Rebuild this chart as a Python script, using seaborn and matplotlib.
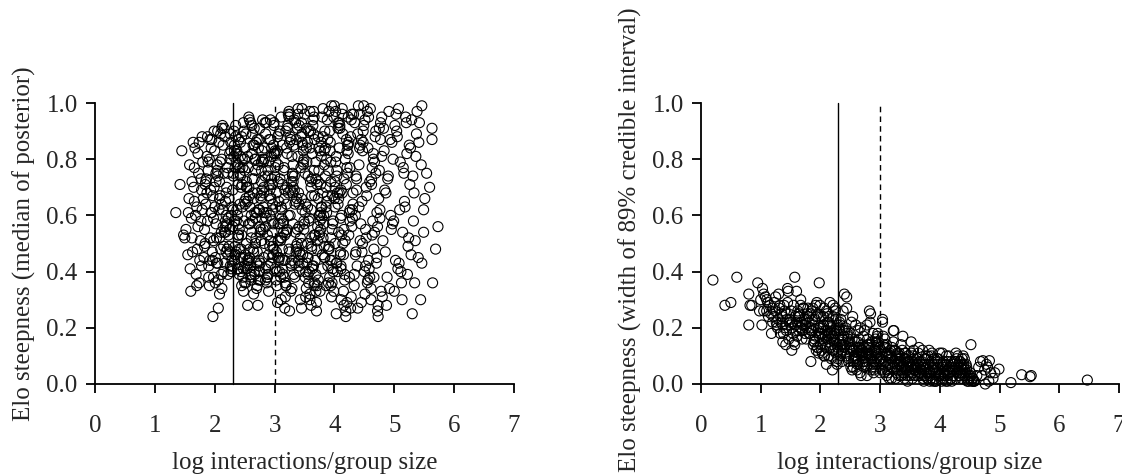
import matplotlib
matplotlib.use("Agg")
import matplotlib.pyplot as plt
import seaborn as sns
import pandas as pd

# ---------------- Left panel: median of posterior ----------------
med_x_a = [1.35,1.42,1.45,1.56,1.50,1.62,1.59,1.60,1.70,1.62,1.66,1.64,1.52,1.48,1.55,1.58,1.68,1.72,1.75,1.78,1.66,1.71,1.74,1.77,1.69,1.73,1.79,1.63,1.67,1.76,1.80,1.78,1.72,1.65,1.57,1.74,1.79,1.70,1.61,1.77]
med_y_a = [0.61,0.71,0.83,0.61,0.52,0.52,0.41,0.33,0.35,0.72,0.77,0.86,0.55,0.53,0.46,0.78,0.60,0.82,0.44,0.69,0.65,0.48,0.86,0.58,0.39,0.75,0.62,0.47,0.84,0.51,0.79,0.42,0.56,0.70,0.66,0.36,0.88,0.63,0.59,0.73]

med_x_b = [1.82,1.85,1.88,1.91,1.94,1.97,2.00,2.03,2.06,2.09,2.12,2.15,2.18,2.21,2.24,2.27,2.29,1.83,1.87,1.90,
           1.93,1.96,1.99,2.02,2.05,2.08,2.11,2.14,2.17,2.20,2.23,2.26,2.28,1.81,1.84,1.89,1.92,1.95,1.98,2.01,
           2.04,2.07,2.10,2.13,2.16,2.19,2.22,2.25,2.28,1.86,1.90,1.94,1.98,2.02,2.06,2.10,2.14,2.18,2.22,2.26,
           1.84,1.88,1.92,1.96,2.00,2.04,2.08,2.12,2.16,2.20,2.24,2.28,1.83,1.87,1.91,1.95,1.99,2.03,2.07,2.11,
           2.15,2.19,2.23,2.27,1.98,2.08,1.85,1.93,2.01,2.09,2.17,2.25,2.13,2.21,2.05,1.97,2.29,1.89,2.11,2.19]
med_y_b = [0.45,0.72,0.88,0.35,0.61,0.24,0.83,0.52,0.27,0.67,0.91,0.40,0.58,0.77,0.49,0.86,0.63,0.55,0.81,0.38,
           0.69,0.47,0.90,0.57,0.74,0.32,0.64,0.85,0.43,0.70,0.53,0.89,0.41,0.66,0.50,0.79,0.44,0.87,0.59,0.36,
           0.76,0.62,0.48,0.92,0.54,0.68,0.39,0.82,0.60,0.73,0.42,0.84,0.51,0.75,0.37,0.89,0.56,0.65,0.46,0.80,
           0.71,0.58,0.87,0.44,0.63,0.78,0.52,0.34,0.91,0.57,0.66,0.40,0.49,0.68,0.80,0.61,0.70,0.43,0.86,0.54,
           0.75,0.47,0.59,0.83,0.38,0.72,0.64,0.52,0.45,0.79,0.88,0.55,0.62,0.48,0.90,0.67,0.42,0.76,0.39,0.60]

med_x_c = [2.31,2.35,2.38,2.42,2.45,2.48,2.52,2.55,2.58,2.62,2.65,2.68,2.72,2.75,2.78,
           2.33,2.36,2.40,2.43,2.47,2.50,2.53,2.57,2.60,2.63,2.67,2.70,2.73,2.77,2.79,
           2.32,2.34,2.39,2.41,2.46,2.49,2.51,2.56,2.59,2.61,2.66,2.69,2.71,2.76,2.80,
           2.30,2.37,2.44,2.54,2.64,2.74,2.31,2.38,2.45,2.52,2.58,2.65,2.72,2.78,2.35,
           2.42,2.48,2.55,2.62,2.68,2.75,2.33,2.40,2.47,2.53,2.60,2.67,2.73,2.79,2.36,
           2.43,2.50,2.57,2.63,2.70,2.77,2.32,2.39,2.46,2.54,2.61,2.69,2.76,2.34,2.41,
           2.49,2.56,2.64,2.71,2.78,2.37,2.44,2.51,2.59,2.66,2.74,2.30,2.40,2.50,2.60,
           2.70,2.80,2.35,2.45,2.55,2.65,2.75,2.38,2.48,2.58,2.68,2.77,2.33,2.43,2.53,
           2.63,2.73,2.36,2.46,2.56,2.66,2.76,2.31,2.41,2.51,2.61,2.71,2.79,2.44,2.57,
           2.67,2.39,2.52,2.62,2.74]
med_y_c = [0.62,0.88,0.41,0.75,0.53,0.93,0.36,0.28,0.67,0.82,0.47,0.59,0.28,0.91,0.72,
           0.44,0.79,0.57,0.86,0.38,0.65,0.50,0.95,0.42,0.73,0.61,0.34,0.84,0.55,0.69,
           0.90,0.49,0.71,0.39,0.80,0.58,0.46,0.77,0.63,0.37,0.85,0.52,0.68,0.43,0.94,
           0.56,0.83,0.40,0.70,0.48,0.87,0.74,0.60,0.35,0.89,0.45,0.66,0.78,0.51,0.92,
           0.64,0.33,0.81,0.54,0.76,0.40,0.58,0.87,0.45,0.70,0.93,0.39,0.62,0.83,0.47,
           0.74,0.36,0.57,0.89,0.43,0.66,0.81,0.52,0.71,0.41,0.60,0.86,0.37,0.77,0.55,
           0.90,0.44,0.68,0.35,0.79,0.62,0.48,0.84,0.57,0.73,0.42,0.69,0.53,0.76,0.38,
           0.61,0.80,0.46,0.88,0.65,0.32,0.56,0.78,0.41,0.94,0.50,0.67,0.85,0.45,0.72,
           0.58,0.37,0.82,0.63,0.43,0.91,0.54,0.75,0.48,0.64,0.39,0.87,0.59,0.70,0.44,
           0.80,0.53,0.66,0.92,0.40]

med_x_d = [2.81,2.84,2.88,2.91,2.95,2.98,3.02,3.05,3.09,3.12,3.16,3.19,3.23,3.26,3.29,
           2.83,2.86,2.90,2.93,2.97,3.00,3.04,3.07,3.11,3.14,3.18,3.21,3.25,3.28,2.82,
           2.85,2.89,2.92,2.96,2.99,3.03,3.06,3.10,3.13,3.17,3.20,3.24,3.27,3.30,2.87,
           2.94,3.01,3.08,3.15,3.22,2.81,2.89,2.97,3.05,3.13,3.21,3.29,2.85,2.93,3.01,
           3.09,3.17,3.25,2.83,2.91,2.99,3.07,3.15,3.23,2.87,2.95,3.03,3.11,3.19,3.27,
           2.82,2.90,2.98,3.06,3.14,3.22,3.30,2.86,2.94,3.02,3.10,3.18,3.26,2.84,2.92,
           3.00,3.08,3.16,3.24,2.88,2.96,3.04,3.12,3.20,3.28,2.81,2.91,3.01,3.11,3.21,
           2.86,2.96,3.06,3.16,3.26,2.83,2.93,3.03,3.13,3.23,2.89,2.99,3.09,3.19,3.29,
           2.97,3.07,3.17,3.27,2.85,3.05,3.15,3.25,2.95,3.12]
med_y_d = [0.55,0.93,0.38,0.71,0.84,0.46,0.63,0.29,0.90,0.52,0.77,0.35,0.68,0.96,0.44,
           0.80,0.59,0.33,0.87,0.49,0.74,0.40,0.65,0.95,0.57,0.31,0.82,0.47,0.72,0.61,
           0.89,0.42,0.69,0.54,0.92,0.37,0.78,0.51,0.85,0.27,0.64,0.97,0.43,0.75,0.36,
           0.66,0.83,0.45,0.58,0.91,0.79,0.39,0.62,0.88,0.48,0.70,0.34,0.56,0.94,0.41,
           0.73,0.53,0.86,0.50,0.67,0.93,0.44,0.76,0.60,0.38,0.81,0.47,0.63,0.90,0.33,
           0.70,0.46,0.85,0.57,0.39,0.92,0.68,0.61,0.43,0.79,0.52,0.36,0.88,0.74,0.49,
           0.82,0.40,0.66,0.95,0.53,0.71,0.35,0.59,0.84,0.42,0.63,0.87,0.77,0.30,0.55,
           0.93,0.45,0.72,0.38,0.60,0.84,0.51,0.68,0.41,0.96,0.76,0.48,0.57,0.35,0.81,
           0.64,0.89,0.44,0.69,0.37,0.83,0.54,0.26,0.73,0.62]

med_x_e = [3.31,3.34,3.38,3.41,3.45,3.48,3.52,3.55,3.59,3.62,3.66,3.69,3.73,3.76,3.79,
           3.33,3.36,3.40,3.43,3.47,3.50,3.54,3.57,3.61,3.64,3.68,3.71,3.75,3.78,3.32,
           3.35,3.39,3.42,3.46,3.49,3.53,3.56,3.60,3.63,3.67,3.70,3.74,3.77,3.80,3.37,
           3.44,3.51,3.58,3.65,3.72,3.31,3.39,3.47,3.55,3.63,3.71,3.79,3.35,3.43,3.51,
           3.59,3.67,3.75,3.33,3.41,3.49,3.57,3.65,3.73,3.37,3.45,3.53,3.61,3.69,3.77,
           3.32,3.40,3.48,3.56,3.64,3.72,3.80,3.36,3.44,3.52,3.60,3.68,3.76,3.34,3.42,
           3.50,3.58,3.66,3.74,3.38,3.46,3.54,3.62,3.70,3.78,3.31,3.41,3.51,3.61,3.71,
           3.36,3.46,3.56,3.66,3.76,3.33,3.43,3.53,3.63,3.73,3.39,3.49,3.59,3.69,3.79,
           3.47,3.57,3.67,3.77,3.35,3.55,3.65,3.75,3.45,3.62]
med_y_e = [0.72,0.38,0.91,0.56,0.27,0.83,0.64,0.45,0.97,0.52,0.76,0.33,0.88,0.60,0.41,
           0.94,0.49,0.68,0.30,0.85,0.57,0.79,0.36,0.62,0.92,0.44,0.71,0.53,0.86,0.39,
           0.65,0.81,0.47,0.98,0.58,0.34,0.74,0.90,0.42,0.67,0.29,0.84,0.55,0.95,0.48,
           0.77,0.61,0.40,0.89,0.51,0.70,0.96,0.43,0.63,0.82,0.35,0.59,0.93,0.46,0.75,
           0.32,0.87,0.54,0.69,0.42,0.80,0.58,0.97,0.37,0.66,0.50,0.91,0.28,0.73,0.61,
           0.85,0.44,0.78,0.39,0.94,0.56,0.68,0.47,0.88,0.31,0.72,0.53,0.83,0.64,0.40,
           0.96,0.59,0.35,0.76,0.50,0.89,0.43,0.67,0.26,0.81,0.57,0.92,0.38,0.70,0.48,
           0.87,0.62,0.45,0.95,0.33,0.74,0.52,0.84,0.41,0.66,0.98,0.55,0.30,0.79,0.63,
           0.46,0.90,0.36,0.71,0.54,0.86,0.42,0.60,0.93,0.49]

med_x_f = [3.81,3.84,3.88,3.91,3.95,3.98,4.02,4.05,4.09,4.12,4.16,4.19,4.23,4.26,4.29,
           3.83,3.86,3.90,3.93,3.97,4.00,4.04,4.07,4.11,4.14,4.18,4.21,4.25,4.28,3.82,
           3.85,3.89,3.92,3.96,3.99,4.03,4.06,4.10,4.13,4.17,4.20,4.24,4.27,4.30,3.87,
           3.94,4.01,4.08,4.15,4.22,3.81,3.89,3.97,4.05,4.13,4.21,4.29,3.85,3.93,4.01,
           4.09,4.17,4.25,3.83,3.91,3.99,4.07,4.15,4.23,3.87,3.95,4.03,4.11,4.19,4.27,
           3.82,3.90,3.98,4.06,4.14,4.22,4.30,3.86,3.94,4.02,4.10,4.18,4.26,3.84,3.92,
           4.00,4.08,4.16,4.24,3.88,3.96,4.04,4.12,4.20,4.28,3.81,3.91,4.01,4.11,4.21,
           3.86,3.96,4.06,4.16,4.26,3.83,3.93,4.03,4.13,4.23]
med_y_f = [0.88,0.45,0.67,0.97,0.31,0.58,0.79,0.40,0.92,0.53,0.73,0.26,0.85,0.62,0.96,
           0.49,0.70,0.36,0.83,0.57,0.99,0.43,0.66,0.30,0.89,0.51,0.77,0.38,0.94,0.60,
           0.74,0.42,0.90,0.55,0.33,0.81,0.64,0.47,0.98,0.39,0.71,0.86,0.27,0.59,0.80,
           0.35,0.63,0.93,0.46,0.75,0.52,0.87,0.41,0.68,0.96,0.29,0.56,0.84,0.44,0.72,
           0.91,0.37,0.61,0.78,0.48,0.95,0.54,0.33,0.82,0.65,0.99,0.43,0.69,0.24,0.88,
           0.57,0.76,0.40,0.93,0.50,0.85,0.62,0.35,0.72,0.97,0.46,0.80,0.58,0.90,0.38,
           0.66,0.84,0.28,0.53,0.94,0.44,0.74,0.60,0.87,0.31,0.98,0.49,0.70,0.41,0.83,
           0.63,0.36,0.91,0.55,0.77,0.45,0.86,0.25,0.68,0.95]

med_x_g = [4.31,4.34,4.38,4.41,4.45,4.48,4.52,4.55,4.59,4.62,4.66,4.69,4.73,4.76,4.79,
           4.33,4.36,4.40,4.43,4.47,4.50,4.54,4.57,4.61,4.64,4.68,4.71,4.75,4.78,4.32,
           4.35,4.39,4.42,4.46,4.49,4.53,4.56,4.60,4.63,4.67,4.70,4.74,4.77,4.80,4.37,
           4.44,4.51,4.58,4.65,4.72,4.31,4.39,4.47,4.55,4.63,4.71,4.79,4.35,4.43,4.51,
           4.59,4.67,4.75,4.33,4.41,4.49,4.57,4.65,4.73,4.37,4.45,4.53,4.61,4.69,4.77,
           4.36,4.46,4.56,4.66,4.76,4.42,4.52,4.62,4.72,4.48]
med_y_g = [0.64,0.93,0.42,0.78,0.29,0.86,0.55,0.97,0.38,0.71,0.48,0.90,0.24,0.62,0.81,
           0.35,0.74,0.99,0.51,0.83,0.40,0.67,0.95,0.30,0.58,0.88,0.45,0.76,0.33,0.96,
           0.60,0.27,0.84,0.47,0.92,0.70,0.37,0.98,0.53,0.79,0.43,0.66,0.87,0.31,0.73,
           0.57,0.94,0.41,0.82,0.26,0.68,0.89,0.50,0.36,0.77,0.61,0.95,0.46,0.85,0.32,
           0.72,0.54,0.91,0.39,0.63,0.99,0.44,0.80,0.28,0.69,0.87,0.52,0.34,0.75,0.93,
           0.47,0.65,0.84,0.38,0.59,0.96,0.42,0.73,0.56,0.90]

med_x_h = [4.82,4.85,4.89,4.92,4.96,4.99,5.03,5.06,5.10,5.13,5.17,5.20,5.24,5.27,5.30,
           4.84,4.88,4.91,4.95,4.98,5.02,5.05,5.09,5.12,5.16,5.19,5.23,5.26,4.83,4.87,
           4.94,5.01,5.08,5.15,5.22,4.86,4.93,5.00,5.07,5.14,5.21,5.28,4.90,4.97,5.04,
           5.11,5.18,5.25,4.81,5.29]
med_y_h = [0.91,0.47,0.73,0.34,0.86,0.58,0.96,0.41,0.79,0.30,0.65,0.93,0.52,0.84,0.25,
           0.69,0.38,0.97,0.55,0.80,0.44,0.88,0.62,0.36,0.75,0.95,0.49,0.71,0.83,0.28,
           0.60,0.92,0.43,0.77,0.39,0.68,0.87,0.33,0.98,0.54,0.82,0.46,0.74,0.57,0.90,
           0.40,0.63,0.85,0.51,0.94]

med_x_i = [5.46,5.63,5.63,5.41,5.54,5.59,5.51,5.49,5.73,5.49,5.69,5.46,5.64,5.34,5.38,5.42,5.36,5.33,5.45,5.40,5.32,5.37,5.44,5.35,5.31]
med_y_i = [0.99,0.91,0.87,0.86,0.75,0.70,0.66,0.62,0.56,0.54,0.48,0.43,0.36,0.36,0.97,0.93,0.81,0.68,0.78,0.45,0.58,0.89,0.30,0.51,0.74]

med_x_k = [2.05,2.12,2.19,2.26,2.33,2.40,2.47,2.54,2.61,2.68,2.75,2.82,2.89,2.96,3.03,3.10,3.17,3.24,3.31,3.38,
           3.45,3.52,3.59,3.66,3.73,3.80,3.87,3.94,4.01,4.08,2.08,2.15,2.22,2.29,2.36,2.43,2.50,2.57,2.64,2.71,
           2.78,2.85,2.92,2.99,3.06,3.13,3.20,3.27,3.34,3.41,3.48,3.55,3.62,3.69,3.76,3.83,3.90,3.97,4.04,4.11,
           2.02,2.18,2.34,2.50,2.66,2.82,2.98,3.14,3.30,3.46,3.62,3.78,3.94,4.10,2.26,2.42,2.58,2.74,2.90,3.06]
med_y_k = [0.43,0.80,0.56,0.47,0.83,0.41,0.77,0.44,0.52,0.80,0.62,0.45,0.74,0.58,0.82,0.38,0.69,0.48,0.78,0.55,
           0.66,0.40,0.84,0.53,0.72,0.46,0.61,0.79,0.50,0.68,0.66,0.49,0.75,0.44,0.58,0.81,0.42,0.70,0.85,0.47,
           0.76,0.41,0.60,0.82,0.45,0.71,0.54,0.87,0.43,0.64,0.79,0.50,0.73,0.39,0.58,0.83,0.48,0.67,0.76,0.42,
           0.72,0.54,0.46,0.80,0.40,0.68,0.57,0.44,0.74,0.86,0.48,0.63,0.52,0.59,0.42,0.77,0.48,0.44,0.79,0.51]

# ---------------- Right panel: width of 89% credible interval ----------------
wid_x_a = [0.20,0.40,0.50,0.60,0.80,0.82,0.80,0.95,1.02,1.00,1.03,1.05,1.08,1.10,1.12,1.15,1.18,1.17,0.98,1.05,0.85,1.10,1.20,1.20,1.13]
wid_y_a = [0.37,0.28,0.29,0.38,0.32,0.28,0.21,0.36,0.21,0.30,0.34,0.26,0.31,0.26,0.29,0.28,0.18,0.25,0.26,0.32,0.28,0.30,0.22,0.27,0.24]

wid_x_b = [1.22,1.25,1.28,1.31,1.34,1.37,1.40,1.43,1.46,1.49,1.52,1.55,1.58,1.61,1.64,1.67,1.70,1.73,1.76,1.79,
           1.23,1.27,1.30,1.33,1.36,1.39,1.42,1.45,1.48,1.51,1.54,1.57,1.60,1.63,1.66,1.69,1.72,1.75,1.78,1.24,
           1.29,1.35,1.41,1.47,1.53,1.59,1.65,1.71,1.77,1.26,1.32,1.38,1.44,1.50,1.56,1.62,1.68,1.74,1.80,1.45,
           1.52,1.58,1.64,1.70,1.76,1.57,1.37,1.43,1.61,1.67]
wid_y_b = [0.24,0.31,0.20,0.27,0.22,0.15,0.26,0.19,0.33,0.23,0.12,0.28,0.21,0.17,0.25,0.30,0.19,0.23,0.16,0.27,
           0.29,0.21,0.32,0.18,0.24,0.28,0.14,0.34,0.22,0.26,0.18,0.38,0.33,0.24,0.20,0.16,0.27,0.21,0.25,0.26,
           0.23,0.25,0.20,0.16,0.22,0.19,0.24,0.27,0.20,0.22,0.28,0.18,0.23,0.21,0.15,0.26,0.22,0.18,0.24,0.29,
           0.20,0.24,0.19,0.21,0.23,0.14,0.21,0.25,0.22,0.28]

wid_x_c = [1.81,1.84,1.87,1.90,1.93,1.96,1.99,2.02,2.05,2.08,2.11,2.14,2.17,2.20,2.23,2.26,2.29,2.32,2.35,2.38,
           1.82,1.85,1.88,1.91,1.94,1.97,2.00,2.03,2.06,2.09,2.12,2.15,2.18,2.21,2.24,2.27,2.30,2.33,2.36,2.39,
           1.83,1.86,1.89,1.92,1.95,1.98,2.01,2.04,2.07,2.10,2.13,2.16,2.19,2.22,2.25,2.28,2.31,2.34,2.37,2.40,
           1.84,1.90,1.96,2.02,2.08,2.14,2.20,2.26,2.32,2.38,1.87,1.93,1.99,2.05,2.11,2.17,2.23,2.29,2.35,1.81,
           1.89,1.97,2.05,2.13,2.21,2.29,2.37,1.85,1.95,2.03,2.12,2.19,2.27,2.34,1.98,2.21,2.40,2.10,2.25,2.16,
           1.92,2.00,2.08,2.18,2.28,2.36,2.06,2.14,2.24,2.32]
wid_y_c = [0.22,0.08,0.27,0.15,0.24,0.19,0.28,0.12,0.21,0.17,0.25,0.10,0.20,0.05,0.16,0.23,0.13,0.19,0.11,0.26,
           0.18,0.26,0.14,0.23,0.29,0.11,0.20,0.16,0.27,0.13,0.22,0.18,0.09,0.24,0.15,0.19,0.12,0.21,0.08,0.17,
           0.25,0.19,0.21,0.28,0.13,0.17,0.24,0.20,0.10,0.26,0.15,0.21,0.18,0.12,0.27,0.14,0.20,0.10,0.16,0.13,
           0.20,0.16,0.25,0.18,0.14,0.22,0.17,0.11,0.15,0.19,0.23,0.12,0.18,0.21,0.16,0.13,0.19,0.09,0.14,0.18,
           0.15,0.20,0.24,0.17,0.12,0.21,0.14,0.19,0.13,0.11,0.19,0.14,0.08,0.23,0.36,0.28,0.32,0.07,0.26,0.29,
           0.17,0.14,0.19,0.16,0.07,0.12,0.10,0.24,0.18,0.22]

wid_x_d = [2.41,2.44,2.47,2.50,2.53,2.56,2.59,2.62,2.65,2.68,2.71,2.74,2.77,2.80,2.83,2.86,2.89,2.92,2.95,2.98,
           2.42,2.45,2.48,2.51,2.54,2.57,2.60,2.63,2.66,2.69,2.72,2.75,2.78,2.81,2.84,2.87,2.90,2.93,2.96,2.99,
           2.43,2.46,2.49,2.52,2.55,2.58,2.61,2.64,2.67,2.70,2.73,2.76,2.79,2.82,2.85,2.88,2.91,2.94,2.97,3.00,
           2.44,2.50,2.56,2.62,2.68,2.74,2.80,2.86,2.92,2.98,2.47,2.53,2.59,2.65,2.71,2.77,2.83,2.89,2.95,2.41,
           2.49,2.57,2.65,2.73,2.81,2.89,2.97,2.45,2.55,2.63,2.72,2.79,2.87,2.94,2.82,2.84,2.52,2.61,2.70,2.78,
           2.46,2.58,2.66,2.76,2.86,2.93,2.54,2.69,2.91,2.99]
wid_y_d = [0.14,0.31,0.09,0.18,0.05,0.12,0.21,0.07,0.16,0.03,0.11,0.19,0.06,0.14,0.22,0.09,0.04,0.13,0.17,0.08,
           0.20,0.11,0.15,0.06,0.24,0.10,0.13,0.19,0.04,0.12,0.17,0.08,0.21,0.10,0.05,0.15,0.12,0.07,0.18,0.09,
           0.10,0.17,0.13,0.22,0.08,0.15,0.05,0.11,0.20,0.14,0.06,0.10,0.16,0.12,0.09,0.18,0.06,0.11,0.14,0.04,
           0.27,0.12,0.09,0.15,0.11,0.07,0.13,0.10,0.16,0.12,0.08,0.16,0.10,0.13,0.08,0.11,0.14,0.05,0.09,0.19,
           0.14,0.10,0.07,0.13,0.11,0.08,0.15,0.18,0.06,0.12,0.09,0.14,0.07,0.10,0.26,0.25,0.13,0.08,0.12,0.03,
           0.16,0.09,0.13,0.11,0.06,0.15,0.12,0.10,0.08,0.13]

wid_x_e = [3.01,3.04,3.07,3.10,3.13,3.16,3.19,3.22,3.25,3.28,3.31,3.34,3.37,3.40,3.43,3.46,3.49,3.52,3.55,3.58,
           3.02,3.05,3.08,3.11,3.14,3.17,3.20,3.23,3.26,3.29,3.32,3.35,3.38,3.41,3.44,3.47,3.50,3.53,3.56,3.59,
           3.03,3.06,3.09,3.12,3.15,3.18,3.21,3.24,3.27,3.30,3.33,3.36,3.39,3.42,3.45,3.48,3.51,3.54,3.57,3.60,
           3.04,3.10,3.16,3.22,3.28,3.34,3.40,3.46,3.52,3.58,3.07,3.13,3.19,3.25,3.31,3.37,3.43,3.49,3.55,3.05,
           3.23,3.38,3.52,3.09,3.17,3.27,3.35,3.45,3.54,3.02,3.14,3.29,3.41,3.57,3.20,3.32,3.47,3.11,3.36,3.50]
wid_y_e = [0.09,0.23,0.04,0.13,0.07,0.11,0.02,0.15,0.06,0.10,0.03,0.08,0.12,0.05,0.09,0.01,0.07,0.11,0.04,0.06,
           0.12,0.07,0.16,0.03,0.10,0.06,0.13,0.08,0.02,0.11,0.07,0.14,0.04,0.09,0.06,0.10,0.03,0.08,0.12,0.05,
           0.05,0.14,0.08,0.11,0.02,0.09,0.06,0.12,0.04,0.08,0.10,0.03,0.07,0.11,0.05,0.08,0.06,0.02,0.09,0.07,
           0.22,0.10,0.07,0.19,0.05,0.09,0.04,0.08,0.06,0.03,0.13,0.05,0.10,0.12,0.08,0.06,0.11,0.04,0.07,0.17,
           0.19,0.17,0.15,0.06,0.12,0.09,0.05,0.03,0.10,0.08,0.04,0.07,0.02,0.05,0.09,0.11,0.06,0.14,0.03,0.08]

wid_x_f = [3.61,3.64,3.67,3.70,3.73,3.76,3.79,3.82,3.85,3.88,3.91,3.94,3.97,4.00,4.03,4.06,4.09,4.12,4.15,4.18,
           3.62,3.65,3.68,3.71,3.74,3.77,3.80,3.83,3.86,3.89,3.92,3.95,3.98,4.01,4.04,4.07,4.10,4.13,4.16,4.19,
           3.63,3.66,3.69,3.72,3.75,3.78,3.81,3.84,3.87,3.90,3.93,3.96,3.99,4.02,4.05,4.08,4.11,4.14,4.17,4.20,
           3.65,3.71,3.77,3.83,3.89,3.95,4.01,4.07,4.13,4.19,3.68,3.74,3.80,3.86,3.92,3.98,4.04,4.10,4.16,3.62,
           3.70,3.79,3.88,3.97,4.06,4.15,3.75,3.93,4.11,3.84]
wid_y_f = [0.06,0.11,0.03,0.08,0.01,0.10,0.05,0.12,0.02,0.07,0.09,0.04,0.06,0.11,0.01,0.08,0.03,0.05,0.10,0.02,
           0.09,0.04,0.07,0.12,0.03,0.06,0.10,0.01,0.08,0.05,0.02,0.09,0.04,0.07,0.11,0.03,0.06,0.01,0.04,0.08,
           0.03,0.08,0.05,0.02,0.09,0.04,0.07,0.03,0.11,0.06,0.01,0.08,0.05,0.02,0.07,0.04,0.10,0.03,0.06,0.01,
           0.13,0.06,0.09,0.04,0.01,0.07,0.03,0.05,0.08,0.02,0.04,0.07,0.02,0.10,0.05,0.03,0.06,0.01,0.04,0.07,
           0.05,0.02,0.06,0.09,0.02,0.05,0.03,0.01,0.07,0.04]

wid_x_g = [4.21,4.24,4.27,4.30,4.33,4.36,4.39,4.42,4.45,4.48,4.51,4.54,4.57,4.22,4.25,4.28,4.31,4.34,4.37,4.40,
           4.43,4.46,4.49,4.52,4.55,4.23,4.29,4.35,4.41,4.47,4.53,4.26,4.32,4.38,4.44,4.50,4.56,4.30,4.36,4.42,
           4.33,4.39,4.45,4.31,4.37,4.27,4.52,4.34,4.40,4.58]
wid_y_g = [0.05,0.08,0.02,0.10,0.04,0.07,0.10,0.03,0.06,0.01,0.04,0.02,0.01,0.03,0.06,0.09,0.05,0.08,0.02,0.07,
           0.04,0.01,0.03,0.14,0.02,0.07,0.04,0.06,0.09,0.02,0.01,0.08,0.03,0.05,0.07,0.02,0.01,0.06,0.04,0.05,
           0.08,0.03,0.05,0.07,0.09,0.11,0.03,0.04,0.06,0.01]

wid_x_h = [4.72,4.83,4.99,4.89,4.76,5.19,5.37,5.51,5.53,6.47,4.75,4.80,4.85,4.70,4.65,4.82,4.78,4.62,4.68,4.92]
wid_y_h = [0.083,0.083,0.053,0.02,0.0,0.005,0.033,0.026,0.03,0.014,0.05,0.06,0.04,0.03,0.06,0.01,0.07,0.03,0.08,0.04]

x_ticks = [0, 1, 2, 3, 4, 5, 6, 7]
y_ticks = [0.0, 0.2, 0.4, 0.6, 0.8, 1.0]
y_ticklabels = ["0.0", "0.2", "0.4", "0.6", "0.8", "1.0"]
x_label = "log interactions/group size"
y_label_left = "Elo steepness (median of posterior)"
y_label_right = "Elo steepness (width of 89% credible interval)"
solid_line_x = 2.3
dashed_line_x = 3.0


def build(xs, ys):
    px, py = [], []
    for a, b in zip(xs, ys):
        n = min(len(a), len(b))
        px += a[:n]
        py += b[:n]
    return pd.DataFrame({"x": px, "y": py})


left_df = build([med_x_a, med_x_b, med_x_c, med_x_d, med_x_e, med_x_f, med_x_g, med_x_h, med_x_i, med_x_k],
                [med_y_a, med_y_b, med_y_c, med_y_d, med_y_e, med_y_f, med_y_g, med_y_h, med_y_i, med_y_k])
right_df = build([wid_x_a, wid_x_b, wid_x_c, wid_x_d, wid_x_e, wid_x_f, wid_x_g, wid_x_h],
                 [wid_y_a, wid_y_b, wid_y_c, wid_y_d, wid_y_e, wid_y_f, wid_y_g, wid_y_h])

sns.set_style("ticks")
plt.rcParams["font.family"] = ["Liberation Serif", "DejaVu Serif"]
plt.rcParams["font.size"] = 18

fig = plt.figure(figsize=(11.22, 4.76), dpi=100)
ax_l = fig.add_axes([95 / 1122, 92 / 476, 419 / 1122, 281 / 476])
ax_r = fig.add_axes([701 / 1122, 92 / 476, 418 / 1122, 281 / 476])

for ax, df, ylab, ylab_y in [(ax_l, left_df, y_label_left, 0.5), (ax_r, right_df, y_label_right, 0.515)]:
    sns.scatterplot(data=df, x="x", y="y", ax=ax, marker="o", s=52,
                    facecolors="none", edgecolor="black", linewidth=0.8, legend=False)
    for coll in ax.collections:
        coll.set_facecolor("none")
        coll.set_edgecolor("black")
        coll.set_clip_on(False)
    ax.plot([solid_line_x, solid_line_x], [0, 1], color="black", lw=1.0, clip_on=False)
    ax.plot([dashed_line_x, dashed_line_x], [0, 1], color="black", lw=1.0,
            linestyle=(0, (4, 3)), clip_on=False)
    ax.set_xlim(0, 7)
    ax.set_ylim(0, 1)
    ax.set_xticks(x_ticks)
    ax.set_xticklabels([str(t) for t in x_ticks])
    ax.set_yticks(y_ticks)
    ax.set_yticklabels(y_ticklabels)
    ax.tick_params(axis="both", direction="out", length=6.5, width=1.3, labelsize=18, color="black")
    ax.tick_params(axis="x", pad=15.5)
    ax.tick_params(axis="y", pad=6)
    for side in ["top", "right"]:
        ax.spines[side].set_visible(False)
    for side in ["left", "bottom"]:
        ax.spines[side].set_linewidth(1.3)
        ax.spines[side].set_color("black")
    ax.set_xlabel(x_label, fontsize=18)
    ax.set_ylabel(ylab, fontsize=18)
    ax.xaxis.set_label_coords(0.5, -0.243)
    ax.yaxis.set_label_coords(-0.141, ylab_y)
    ax.set_facecolor("white")

fig.patch.set_facecolor("white")
fig.savefig("out.png", dpi=100, facecolor="white")
